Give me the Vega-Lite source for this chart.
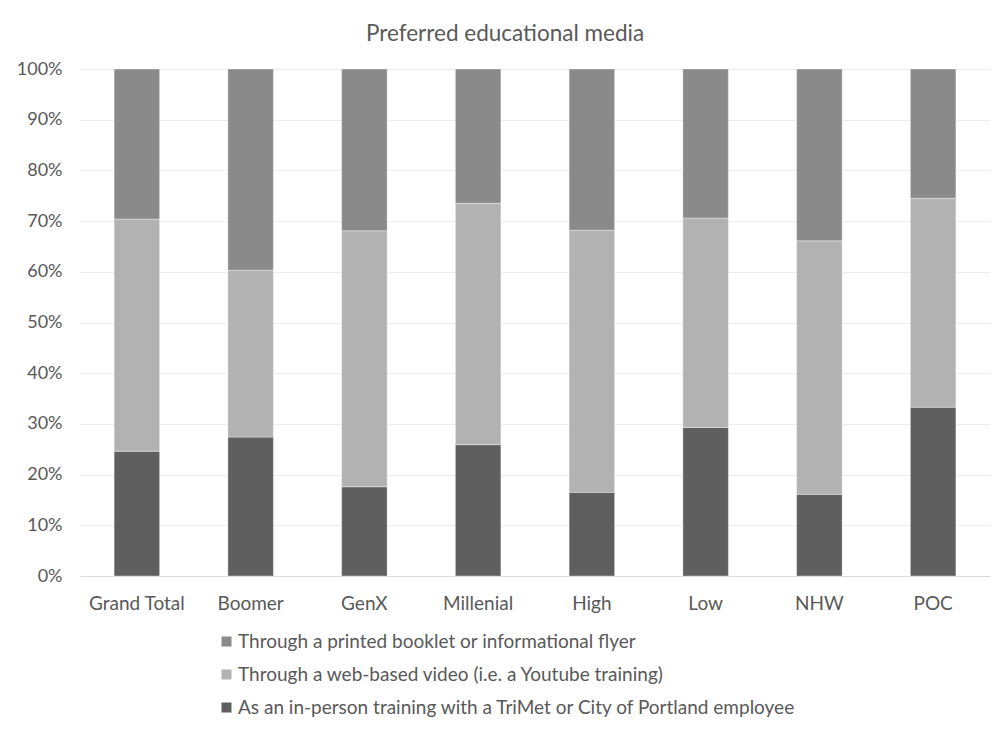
{
  "$schema": "https://vega.github.io/schema/vega-lite/v6.json",
  "width": 910,
  "height": 507,
  "autosize": {"type": "none"},
  "padding": {"left": 80, "top": 69, "right": 2, "bottom": 154},
  "background": "white",
  "config": {
    "font": "Lato",
    "view": {"stroke": null}
  },
  "title": {
    "text": "Preferred educational media",
    "fontSize": 22.5,
    "fontWeight": "normal",
    "color": "#595959",
    "anchor": "middle",
    "dx": -30,
    "offset": 15
  },
  "data": {
    "values": [
      {"group": "Grand Total", "media": "As an in-person training with a TriMet or City of Portland employee", "order": 1, "value": 24.6},
      {"group": "Grand Total", "media": "Through a web-based video (i.e. a Youtube training)", "order": 2, "value": 45.8},
      {"group": "Grand Total", "media": "Through a printed booklet or informational flyer", "order": 3, "value": 29.6},
      {"group": "Boomer", "media": "As an in-person training with a TriMet or City of Portland employee", "order": 1, "value": 27.4},
      {"group": "Boomer", "media": "Through a web-based video (i.e. a Youtube training)", "order": 2, "value": 32.9},
      {"group": "Boomer", "media": "Through a printed booklet or informational flyer", "order": 3, "value": 39.7},
      {"group": "GenX", "media": "As an in-person training with a TriMet or City of Portland employee", "order": 1, "value": 17.6},
      {"group": "GenX", "media": "Through a web-based video (i.e. a Youtube training)", "order": 2, "value": 50.5},
      {"group": "GenX", "media": "Through a printed booklet or informational flyer", "order": 3, "value": 31.9},
      {"group": "Millenial", "media": "As an in-person training with a TriMet or City of Portland employee", "order": 1, "value": 25.9},
      {"group": "Millenial", "media": "Through a web-based video (i.e. a Youtube training)", "order": 2, "value": 47.6},
      {"group": "Millenial", "media": "Through a printed booklet or informational flyer", "order": 3, "value": 26.5},
      {"group": "High", "media": "As an in-person training with a TriMet or City of Portland employee", "order": 1, "value": 16.5},
      {"group": "High", "media": "Through a web-based video (i.e. a Youtube training)", "order": 2, "value": 51.7},
      {"group": "High", "media": "Through a printed booklet or informational flyer", "order": 3, "value": 31.8},
      {"group": "Low", "media": "As an in-person training with a TriMet or City of Portland employee", "order": 1, "value": 29.3},
      {"group": "Low", "media": "Through a web-based video (i.e. a Youtube training)", "order": 2, "value": 41.3},
      {"group": "Low", "media": "Through a printed booklet or informational flyer", "order": 3, "value": 29.4},
      {"group": "NHW", "media": "As an in-person training with a TriMet or City of Portland employee", "order": 1, "value": 16.1},
      {"group": "NHW", "media": "Through a web-based video (i.e. a Youtube training)", "order": 2, "value": 50.0},
      {"group": "NHW", "media": "Through a printed booklet or informational flyer", "order": 3, "value": 33.9},
      {"group": "POC", "media": "As an in-person training with a TriMet or City of Portland employee", "order": 1, "value": 33.3},
      {"group": "POC", "media": "Through a web-based video (i.e. a Youtube training)", "order": 2, "value": 41.2},
      {"group": "POC", "media": "Through a printed booklet or informational flyer", "order": 3, "value": 25.5}
    ]
  },
  "mark": {"type": "bar", "stroke": "#ffffff", "strokeWidth": 0.6, "strokeOpacity": 0.6},
  "encoding": {
    "x": {
      "field": "group",
      "type": "nominal",
      "sort": ["Grand Total", "Boomer", "GenX", "Millenial", "High", "Low", "NHW", "POC"],
      "scale": {"paddingInner": 0.6, "paddingOuter": 0.3},
      "axis": {
        "title": null,
        "labelAngle": 0,
        "labelFontSize": 19,
        "labelColor": "#595959",
        "labelPadding": 18,
        "ticks": false,
        "domainColor": "#d9d9d9",
        "domainWidth": 1
      }
    },
    "y": {
      "field": "value",
      "type": "quantitative",
      "stack": "normalize",
      "scale": {"domain": [0, 1]},
      "axis": {
        "title": null,
        "format": ".0%",
        "values": [0, 0.1, 0.2, 0.3, 0.4, 0.5, 0.6, 0.7, 0.8, 0.9, 1],
        "labelOverlap": false,
        "labelFontSize": 18,
        "labelColor": "#595959",
        "labelPadding": 18,
        "ticks": false,
        "domain": false,
        "gridColor": "#ececec",
        "gridWidth": 1
      }
    },
    "color": {
      "field": "media",
      "type": "nominal",
      "sort": ["Through a printed booklet or informational flyer", "Through a web-based video (i.e. a Youtube training)", "As an in-person training with a TriMet or City of Portland employee"],
      "scale": {
        "domain": ["Through a printed booklet or informational flyer", "Through a web-based video (i.e. a Youtube training)", "As an in-person training with a TriMet or City of Portland employee"],
        "range": ["#8a8a8a", "#b2b2b2", "#5f5f5f"]
      },
      "legend": {
        "title": null,
        "orient": "none",
        "legendX": 137,
        "legendY": 563,
        "symbolType": "square",
        "symbolSize": 100,
        "symbolStrokeWidth": 0,
        "labelFontSize": 19,
        "labelColor": "#595959",
        "labelLimit": 800,
        "rowPadding": 13,
        "labelOffset": 2
      }
    },
    "order": {"field": "order", "type": "quantitative", "sort": "ascending"}
  }
}
